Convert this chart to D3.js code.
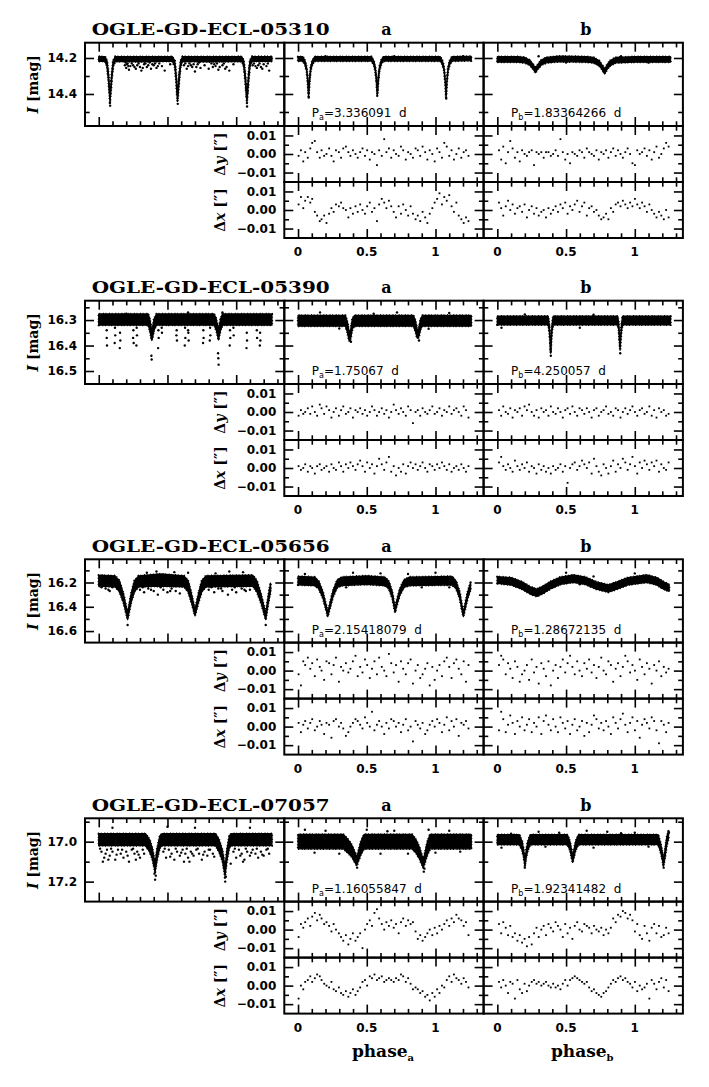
<!DOCTYPE html>
<html><head><meta charset="utf-8">
<script src="https://d3js.org/d3.v7.min.js"></script>
<style>html,body{margin:0;padding:0;background:#fff;}svg{display:block;}</style>
</head><body>
<svg id="chart" width="709" height="1087"></svg>
<script>
// ---------------- data ----------------
const starNames = ["OGLE-GD-ECL-05310","OGLE-GD-ECL-05390","OGLE-GD-ECL-05656","OGLE-GD-ECL-07057"];
const periodA = ["3.336091","1.75067","2.15418079","1.16055847"];
const periodB = ["1.83364266","4.250057","1.28672135","1.92341482"];
const magDomain = [[14.115,14.578],[16.224,16.551],[16.009,16.695],[16.883,17.30]];
const magMajorTicks = [[14.2,14.4],[16.3,16.4,16.5],[16.2,16.4,16.6],[17.0,17.2]];
const magMinorTicks = [[14.3,14.5],[16.25,16.35,16.45],[16.1,16.3,16.5],[16.9,17.1]];
const magTickLabels = [["14.2","14.4"],["16.3","16.4","16.5"],["16.2","16.4","16.6"],["17.0","17.2"]];
const phaseDomain = [-0.1, 1.35];
const phaseMajorTicks = [0, 0.5, 1];
const phaseMinorTicks = [0.1,0.2,0.3,0.4,0.6,0.7,0.8,0.9,1.1,1.2,1.3];
const phaseTickLabels = ["0","0.5","1"];
const shiftDomain = [-0.0151, 0.0151];
const shiftMajorTicks = [-0.01, 0, 0.01];
const shiftMinorTicks = [-0.005, 0.005];
const shiftTickLabels = ["\u22120.01","0.00","0.01"];

// light-curve bands: [phase, mean I mag, half spread]
const g1Full = [[0.00,14.205,.013],[0.045,14.205,.013],[0.06,14.23,.016],[0.07,14.30,.018],[0.077,14.37,.018],[0.082,14.43,.016],[0.088,14.37,.018],[0.095,14.30,.018],[0.105,14.23,.016],[0.12,14.205,.013],[0.30,14.207,.014],[0.45,14.206,.013],[0.535,14.205,.013],[0.553,14.23,.016],[0.562,14.30,.018],[0.568,14.37,.018],[0.573,14.425,.016],[0.579,14.37,.018],[0.586,14.30,.018],[0.596,14.23,.016],[0.61,14.205,.013],[0.80,14.207,.014],[1.04,14.205,.013],[1.055,14.23,.016],[1.065,14.30,.018],[1.072,14.37,.018],[1.078,14.435,.016],[1.084,14.37,.018],[1.091,14.30,.018],[1.10,14.23,.016],[1.115,14.205,.013],[1.26,14.205,.013]];
const g1A = [[0.00,14.205,.012],[0.035,14.205,.012],[0.05,14.225,.011],[0.062,14.26,.01],[0.07,14.32,.009],[0.077,14.405,.009],[0.084,14.32,.009],[0.092,14.26,.01],[0.104,14.225,.011],[0.12,14.205,.012],[0.30,14.205,.012],[0.535,14.205,.012],[0.55,14.225,.011],[0.562,14.26,.01],[0.57,14.32,.009],[0.577,14.395,.009],[0.584,14.32,.009],[0.592,14.26,.01],[0.604,14.225,.011],[0.62,14.205,.012],[0.85,14.205,.012],[1.035,14.205,.012],[1.05,14.225,.011],[1.062,14.26,.01],[1.07,14.32,.009],[1.077,14.41,.009],[1.084,14.32,.009],[1.092,14.26,.01],[1.104,14.225,.011],[1.12,14.205,.012],[1.26,14.203,.012]];
const g1B = [[0.00,14.208,.015],[0.15,14.208,.015],[0.20,14.212,.015],[0.235,14.225,.014],[0.26,14.248,.013],[0.277,14.27,.012],[0.295,14.248,.013],[0.32,14.225,.014],[0.355,14.212,.015],[0.45,14.205,.015],[0.65,14.208,.015],[0.70,14.212,.015],[0.74,14.228,.014],[0.765,14.255,.013],[0.78,14.276,.012],[0.797,14.252,.013],[0.822,14.228,.014],[0.86,14.212,.015],[1.0,14.208,.015],[1.26,14.208,.015]];
const g2Full = [[0.00,16.298,.022],[0.36,16.298,.022],[0.372,16.32,.022],[0.38,16.345,.02],[0.386,16.362,.018],[0.393,16.345,.02],[0.402,16.318,.022],[0.42,16.298,.022],[0.84,16.298,.022],[0.855,16.318,.022],[0.864,16.34,.02],[0.871,16.36,.018],[0.878,16.34,.02],[0.886,16.318,.022],[0.90,16.298,.022],[1.26,16.298,.022]];
const g2A = [[0.00,16.303,.021],[0.345,16.303,.021],[0.36,16.33,.02],[0.37,16.36,.018],[0.378,16.37,.014],[0.386,16.345,.018],[0.395,16.315,.02],[0.41,16.303,.021],[0.84,16.303,.021],[0.855,16.325,.02],[0.866,16.352,.018],[0.874,16.36,.012],[0.882,16.34,.018],[0.892,16.315,.02],[0.905,16.303,.021],[1.26,16.303,.021]];
const g2B = [[0.00,16.302,.017],[0.37,16.302,.017],[0.378,16.33,.012],[0.384,16.38,.007],[0.388,16.425,.005],[0.392,16.38,.007],[0.398,16.33,.012],[0.406,16.302,.017],[0.876,16.302,.017],[0.884,16.33,.012],[0.889,16.375,.007],[0.893,16.413,.005],[0.897,16.375,.007],[0.903,16.33,.012],[0.911,16.302,.017],[1.26,16.302,.017]];
const g3Full = [[0.00,16.185,.045],[0.12,16.19,.045],[0.15,16.23,.045],[0.18,16.33,.035],[0.21,16.48,.025],[0.235,16.33,.035],[0.26,16.23,.045],[0.29,16.19,.045],[0.45,16.18,.05],[0.62,16.19,.045],[0.65,16.23,.045],[0.675,16.33,.035],[0.70,16.45,.025],[0.725,16.33,.035],[0.75,16.23,.045],[0.78,16.19,.045],[1.12,16.185,.045],[1.15,16.23,.045],[1.18,16.33,.035],[1.215,16.48,.025],[1.235,16.33,.03],[1.25,16.24,.035]];
const g3A = [[0.00,16.185,.035],[0.12,16.19,.035],[0.15,16.22,.03],[0.18,16.3,.025],[0.205,16.41,.02],[0.216,16.465,.016],[0.23,16.4,.02],[0.255,16.29,.025],[0.285,16.21,.03],[0.32,16.19,.035],[0.5,16.18,.035],[0.63,16.19,.035],[0.66,16.22,.03],[0.685,16.3,.025],[0.698,16.38,.02],[0.706,16.43,.016],[0.718,16.37,.02],[0.74,16.28,.025],[0.77,16.21,.03],[0.81,16.19,.035],[1.12,16.185,.035],[1.15,16.22,.03],[1.175,16.3,.025],[1.193,16.41,.02],[1.203,16.465,.016],[1.215,16.4,.02],[1.235,16.3,.025],[1.255,16.23,.03]];
const g3B = [[0.00,16.18,.028],[0.10,16.19,.03],[0.18,16.225,.03],[0.24,16.265,.03],[0.287,16.285,.03],[0.33,16.262,.03],[0.39,16.22,.03],[0.46,16.185,.03],[0.553,16.168,.03],[0.64,16.185,.03],[0.72,16.225,.03],[0.808,16.25,.03],[0.87,16.225,.03],[0.95,16.19,.03],[1.087,16.168,.03],[1.16,16.19,.03],[1.21,16.225,.03],[1.25,16.245,.028]];
const g4Full = [[0.00,16.99,.03],[0.34,16.99,.03],[0.37,17.02,.03],[0.39,17.06,.026],[0.41,17.13,.022],[0.425,17.06,.026],[0.445,17.0,.03],[0.46,16.99,.03],[0.85,16.99,.03],[0.875,17.02,.03],[0.9,17.07,.026],[0.919,17.15,.022],[0.932,17.07,.026],[0.95,17.0,.03],[0.965,16.99,.03],[1.26,16.99,.03]];
const g4A = [[0.00,17.0,.036],[0.33,17.0,.036],[0.36,17.02,.034],[0.39,17.045,.03],[0.415,17.08,.025],[0.427,17.1,.02],[0.44,17.07,.025],[0.458,17.03,.032],[0.48,17.0,.036],[0.83,17.0,.036],[0.86,17.025,.033],[0.885,17.06,.028],[0.9,17.09,.023],[0.912,17.11,.02],[0.925,17.075,.025],[0.94,17.035,.032],[0.96,17.0,.036],[1.26,17.0,.036]];
const g4B = [[0.00,16.99,.025],[0.16,16.99,.025],[0.18,17.02,.021],[0.192,17.06,.018],[0.201,17.11,.014],[0.21,17.06,.018],[0.222,17.02,.021],[0.24,16.99,.025],[0.51,16.99,.025],[0.528,17.02,.021],[0.54,17.06,.018],[0.548,17.09,.014],[0.557,17.06,.018],[0.57,17.02,.021],[0.59,16.99,.025],[1.17,16.99,.025],[1.188,17.03,.021],[1.2,17.07,.018],[1.208,17.11,.014],[1.218,17.07,.018],[1.232,17.0,.021],[1.245,16.965,.018]];

// scattered individual measurements: [phase, I mag]
const g1FullDots = [[0.19,14.24],[0.2,14.255],[0.21,14.23],[0.22,14.265],[0.23,14.245],[0.25,14.24],[0.27,14.26],[0.29,14.23],[0.30,14.25],[0.31,14.27],[0.33,14.235],[0.35,14.25],[0.37,14.225],[0.38,14.26],[0.40,14.24],[0.42,14.255],[0.44,14.23],[0.46,14.245],[0.48,14.27],[0.52,14.235],[0.62,14.24],[0.64,14.26],[0.66,14.23],[0.68,14.25],[0.70,14.275],[0.72,14.235],[0.74,14.255],[0.77,14.24],[0.80,14.26],[0.82,14.23],[0.85,14.245],[0.87,14.265],[0.90,14.24],[0.93,14.25],[0.95,14.27],[0.98,14.235],[1.12,14.24],[1.15,14.255],[1.17,14.23],[1.19,14.26],[1.22,14.245],[1.24,14.27],[0.083,14.465],[0.575,14.455],[1.079,14.47],[0.081,14.45],[0.195,14.225],[0.205,14.235],[0.215,14.245],[0.24,14.23],[0.26,14.25],[0.28,14.24],[0.32,14.255],[0.34,14.23],[0.36,14.24],[0.39,14.235],[0.41,14.23],[0.43,14.245],[0.63,14.23],[0.65,14.245],[0.67,14.24],[0.69,14.235],[0.71,14.25],[0.73,14.225],[0.83,14.25],[0.84,14.235],[0.86,14.23],[0.88,14.25],[0.91,14.23],[0.92,14.26],[1.13,14.23],[1.14,14.245],[1.16,14.24],[1.18,14.25],[1.2,14.235],[1.23,14.23]];
const g1ADots = [[0.078,14.42],[0.576,14.41],[1.078,14.425],[0.2,14.19],[0.7,14.19],[1.2,14.19]];
const g1BDots = [[0.3,14.19],[0.9,14.19],[0.5,14.225],[1.1,14.226]];
const g2FullDots = [[0.058,16.34],[0.058,16.37],[0.06,16.40],[0.118,16.33],[0.12,16.36],[0.116,16.39],[0.155,16.35],[0.157,16.38],[0.153,16.41],[0.252,16.34],[0.25,16.37],[0.254,16.39],[0.276,16.33],[0.278,16.36],[0.274,16.40],[0.434,16.34],[0.436,16.37],[0.432,16.41],[0.458,16.33],[0.46,16.35],[0.567,16.34],[0.569,16.38],[0.565,16.36],[0.628,16.33],[0.63,16.37],[0.626,16.40],[0.652,16.35],[0.654,16.38],[0.65,16.34],[0.761,16.34],[0.763,16.37],[0.759,16.39],[0.81,16.33],[0.812,16.36],[0.808,16.38],[0.955,16.34],[0.957,16.37],[0.953,16.40],[0.98,16.33],[0.982,16.36],[1.077,16.35],[1.079,16.38],[1.075,16.41],[1.15,16.34],[1.152,16.37],[1.174,16.35],[1.176,16.38],[1.172,16.40],[0.383,16.44],[0.385,16.455],[0.868,16.43],[0.87,16.45],[0.872,16.475],[0.2,16.275],[0.65,16.27],[0.9,16.27]];
const g2ADots = [[0.16,16.27],[0.55,16.275],[0.72,16.27],[1.1,16.272],[0.385,16.385],[0.88,16.38],[0.3,16.333],[0.95,16.334]];
const g2BDots = [[0.03,16.33],[0.6,16.33],[0.389,16.44],[0.894,16.43],[0.2,16.278],[0.7,16.279]];
const g3FullDots = [[0.30,16.26],[0.33,16.28],[0.36,16.25],[0.40,16.27],[0.43,16.3],[0.47,16.26],[0.5,16.28],[0.53,16.25],[0.56,16.27],[0.59,16.29],[0.8,16.26],[0.84,16.28],[0.87,16.25],[0.9,16.27],[0.94,16.3],[0.97,16.26],[1.0,16.28],[1.04,16.25],[1.07,16.27],[1.1,16.26],[0.05,16.25],[0.08,16.27],[0.1,16.24],[0.42,16.11],[0.55,16.115],[0.95,16.11],[1.05,16.115],[0.21,16.55],[1.215,16.55],[0.32,16.24],[0.38,16.26],[0.45,16.24],[0.52,16.27],[0.82,16.24],[0.89,16.25],[0.99,16.24],[1.06,16.26],[0.02,16.24],[0.07,16.26],[0.35,16.12],[0.65,16.12],[0.85,16.125]];
const g3ADots = [[0.4,16.12],[0.6,16.125],[1.0,16.12],[0.35,16.24],[0.9,16.24],[0.05,16.13],[0.8,16.13],[1.1,16.24]];
const g3BDots = [[0.5,16.12],[0.7,16.15],[1.0,16.125],[0.15,16.235],[0.6,16.215]];
const g4FullDots = [[0.02,17.05],[0.04,17.08],[0.06,17.04],[0.08,17.07],[0.1,17.05],[0.12,17.09],[0.14,17.04],[0.16,17.06],[0.18,17.08],[0.2,17.05],[0.22,17.1],[0.24,17.04],[0.26,17.06],[0.28,17.05],[0.3,17.08],[0.32,17.04],[0.47,17.05],[0.49,17.08],[0.51,17.04],[0.53,17.06],[0.55,17.09],[0.57,17.05],[0.59,17.07],[0.61,17.04],[0.63,17.06],[0.65,17.08],[0.67,17.05],[0.69,17.07],[0.71,17.04],[0.73,17.06],[0.75,17.09],[0.77,17.05],[0.79,17.07],[0.81,17.04],[0.83,17.06],[0.98,17.05],[1.0,17.08],[1.02,17.04],[1.04,17.06],[1.06,17.09],[1.08,17.05],[1.1,17.07],[1.12,17.04],[1.14,17.06],[1.16,17.08],[1.18,17.05],[1.2,17.07],[1.22,17.04],[1.24,17.06],[0.405,17.16],[0.41,17.19],[0.415,17.17],[0.918,17.18],[0.92,17.2],[0.925,17.175],[0.1,16.93],[0.5,16.925],[0.7,16.93],[1.1,16.93],[0.03,17.1],[0.96,17.11],[0.01,17.035],[0.05,17.06],[0.09,17.035],[0.13,17.065],[0.17,17.04],[0.21,17.07],[0.25,17.035],[0.29,17.065],[0.33,17.06],[0.48,17.035],[0.52,17.075],[0.56,17.035],[0.6,17.055],[0.64,17.035],[0.68,17.06],[0.72,17.035],[0.76,17.065],[0.8,17.04],[0.84,17.075],[0.99,17.035],[1.03,17.07],[1.07,17.035],[1.11,17.055],[1.15,17.035],[1.19,17.065],[1.23,17.035],[0.07,17.09],[0.27,17.09],[0.62,17.1],[0.66,17.1],[1.05,17.1]];
const g4ADots = [[0.05,16.94],[0.2,16.945],[0.5,16.94],[0.7,16.945],[0.95,16.94],[1.1,16.945],[0.3,17.06],[0.6,17.06],[0.8,17.06],[0.43,17.13],[0.915,17.15],[0.92,17.135],[0.12,17.055],[1.0,17.055],[1.18,17.05],[0.65,16.948]];
const g4BDots = [[0.3,16.95],[0.45,16.955],[0.65,16.945],[0.8,16.95],[1.0,16.955],[0.03,17.03],[0.7,17.03],[0.2,17.13],[1.21,17.13],[1.248,16.955],[0.1,16.96],[0.9,16.958],[0.35,17.025],[1.1,17.025]];

// centroid shifts (arcsec) vs phase
const phA = [0.004,0.021,0.038,0.052,0.071,0.089,0.103,0.122,0.139,0.158,0.171,0.19,0.207,0.226,0.243,0.259,0.276,0.297,0.313,0.329,0.348,0.366,0.381,0.399,0.418,0.434,0.452,0.469,0.487,0.503,0.522,0.538,0.556,0.574,0.59,0.609,0.627,0.643,0.661,0.678,0.696,0.713,0.732,0.749,0.765,0.784,0.801,0.819,0.836,0.855,0.871,0.889,0.906,0.925,0.941,0.958,0.977,0.994,1.012,1.029,1.047,1.064,1.082,1.1,1.117,1.134,1.152,1.169,1.188,1.205,1.222,1.24];
const phB = [0.012,0.028,0.043,0.061,0.078,0.094,0.111,0.128,0.146,0.163,0.18,0.198,0.215,0.231,0.25,0.267,0.285,0.301,0.32,0.337,0.354,0.372,0.389,0.406,0.424,0.441,0.459,0.476,0.494,0.511,0.529,0.546,0.563,0.581,0.598,0.616,0.633,0.651,0.668,0.686,0.703,0.721,0.738,0.756,0.773,0.791,0.808,0.826,0.843,0.861,0.878,0.896,0.913,0.931,0.948,0.966,0.983,1.001,1.018,1.036,1.053,1.071,1.088,1.106,1.123,1.141,1.158,1.176,1.193,1.211,1.228,1.246];
const g1aDy = [-.001,.002,-.004,.001,-.002,.003,.006,.007,.001,-.002,.002,-.001,.000,.003,-.001,-.004,.002,.001,-.002,.003,.004,.001,-.001,.002,.000,-.002,.001,.003,-.001,.002,-.003,.001,.000,-.006,.002,-.001,.008,.001,.003,-.002,.002,.000,-.001,.004,.002,-.003,.001,.000,-.002,.003,.002,-.001,.004,.001,-.003,.002,.000,-.004,.003,.001,-.002,.006,.004,-.001,.002,-.003,.000,.003,-.002,.001,.002,-.001];
const g1aDx = [.003,.007,.001,.005,.007,.004,.006,-.001,-.003,-.006,-.005,-.003,-.007,-.002,.001,-.001,.003,.002,.004,.001,.000,-.004,.001,-.002,.002,-.001,.003,.000,-.002,.002,.004,-.001,.001,-.006,.003,.006,.004,.001,.005,.002,-.001,-.004,.002,-.002,.003,.000,-.003,.002,-.002,-.005,-.003,-.006,-.001,-.004,-.007,-.002,.001,.004,.006,.009,.003,.007,.005,.008,.002,-.001,.004,-.003,-.005,-.007,-.004,-.006];
const g1bDy = [.002,-.003,.004,-.005,.001,.007,.003,-.002,.001,-.004,.002,.000,-.001,.001,.002,-.006,.001,.000,.001,-.002,.001,.001,-.001,.000,.002,-.001,.008,.001,-.003,.000,-.005,.001,.000,-.001,.002,.001,-.002,.003,.001,.000,-.001,.002,-.003,.001,.000,.002,-.002,.001,.003,-.001,.002,.000,-.002,.001,.003,.000,-.005,-.006,.002,.000,.001,.003,-.001,.002,-.003,.001,.004,-.002,.000,.003,.006,.004];
const g1bDx = [.004,.001,-.003,.002,.005,.000,.003,-.002,.001,.002,-.001,.003,-.004,.000,.002,-.002,.001,-.003,-.001,.000,-.004,.001,-.002,.000,.002,-.001,.003,.001,.004,-.002,.002,.000,.003,.005,-.001,.002,.004,-.003,.001,.002,-.001,.000,-.003,-.005,-.004,-.002,-.005,.001,-.001,.003,.004,.002,.005,.003,.001,.004,.002,.006,.003,.001,.004,.002,-.001,.003,.000,-.002,-.004,-.001,-.003,-.005,.000,-.004];
const g2aDy = [-.002,.001,-.001,.000,.002,-.001,.003,.000,-.002,.004,.002,-.001,.003,.001,-.003,.000,.002,-.002,.001,.003,-.001,.000,.002,-.003,.001,.000,.002,-.001,.001,-.002,.000,.003,.001,-.002,.000,.002,-.001,.001,-.003,.000,.004,.001,-.001,.002,.000,-.002,.003,.001,-.006,.000,.001,-.002,.002,.000,-.001,.001,.003,-.001,.000,.002,-.002,.001,.000,.003,-.001,.001,.002,.000,-.002,.003,.001,-.003];
const g2aDx = [.001,-.001,.000,.002,-.002,.001,.000,-.003,.001,.002,-.001,.000,.001,-.002,.002,.000,-.001,.003,.001,-.002,.002,.000,.003,.001,-.001,.002,.004,.001,-.002,.003,.000,.002,-.003,.001,.005,.002,-.001,.003,.006,-.002,.001,-.004,.000,-.002,.002,-.003,.001,.003,.000,.002,-.001,.001,.003,.000,-.002,.002,.001,-.001,.002,.000,.003,.001,-.001,.002,-.002,.000,.001,-.001,.002,.000,-.002,.001];
const g2bDy = [.001,-.002,.003,.000,-.001,.002,-.003,.001,.000,.002,-.002,.003,.001,.004,.000,-.002,.001,-.003,.002,.000,.001,-.002,.003,.000,-.001,.002,.000,-.003,.001,.002,-.001,.003,.000,-.002,.002,.001,-.001,.002,.000,-.003,.001,.002,-.002,.000,.001,.003,-.001,.000,-.002,.002,.001,-.003,.000,.002,-.001,.001,.003,.000,-.002,.001,.002,-.001,.000,.003,-.002,.001,-.003,.002,.000,.001,-.002,-.001];
const g2bDx = [.003,.006,.001,-.001,.002,.000,-.002,.004,.001,-.001,.002,.000,.003,-.002,.001,.000,-.003,.002,-.001,.001,-.002,.000,-.003,.001,-.001,.000,.002,-.002,.001,-.008,.000,.002,.003,-.001,.001,.004,.002,.000,.003,-.003,.005,.001,-.002,-.004,.002,.000,-.003,.001,.004,-.002,.002,.000,.005,.003,-.001,.002,.006,.001,-.003,.003,.000,.004,.002,-.001,.003,.001,.004,-.002,.002,.000,-.001,.003];
const g3aDy = [-.002,-.008,.005,.003,.007,.001,.004,-.003,.006,.002,.000,-.005,.005,.004,-.002,.003,.007,-.006,.002,.000,.004,-.001,.001,.005,.008,-.003,.002,-.001,.006,.003,-.004,.001,.005,-.002,.007,.002,.000,-.003,.009,.004,-.001,.003,-.006,.005,.001,-.002,.004,.006,-.007,.000,.003,-.004,-.002,.001,.004,-.008,.002,-.005,.000,.003,-.003,.005,.007,.002,-.004,.004,.006,.001,-.002,.005,-.006,.003];
const g3aDx = [.002,-.003,.001,.003,-.001,.002,.004,-.002,.000,.003,.001,-.004,.002,.001,-.006,.003,.004,.000,.002,-.001,-.005,-.003,.000,.002,.004,.003,.001,-.001,.005,.002,.000,.008,-.002,.001,.003,.000,-.004,.002,-.001,.004,.003,.000,.002,-.003,.001,.004,-.002,.000,-.008,.003,.001,-.001,.002,-.004,-.002,.001,.003,.000,.004,.002,-.003,.001,.005,-.002,.003,.000,.004,-.005,.002,.001,.003,-.001];
const g3bDy = [.003,.008,.006,-.002,.004,.001,-.004,.005,.002,-.006,-.002,.000,.003,-.005,.006,-.001,.002,-.007,.004,.001,-.003,.005,-.008,.000,.003,-.004,.002,.006,-.001,.004,.008,.002,-.002,.005,.000,-.003,.004,.001,.006,-.001,.003,-.004,.002,.007,.000,-.002,.005,.003,-.006,.001,.004,-.003,.002,.008,.005,-.001,.003,.000,-.005,.006,.002,-.002,.004,.001,-.007,.003,.000,.005,-.003,.002,-.001,.001];
const g3bDx = [-.002,.008,.004,-.003,.001,.006,.002,-.004,.003,.000,.005,-.002,.001,.004,-.003,.002,.000,.005,-.004,.003,.006,.001,-.002,.004,.000,-.003,.005,.002,-.001,.003,-.004,.001,.004,-.002,.000,.003,-.005,.002,-.003,.001,.006,.004,-.001,.002,-.002,.003,.000,-.004,.005,.002,-.001,.004,.007,.001,-.003,.002,.005,-.002,.003,-.006,.001,.004,.002,-.001,.005,.003,-.002,-.009,.003,.001,-.003,.002];
const g4aDy = [-.004,.003,.001,.004,.006,.002,.007,.009,.005,.008,.006,.003,.004,.002,-.001,.003,.000,-.002,-.004,-.006,-.003,-.008,-.005,-.002,-.006,-.004,-.002,-.010,.000,.003,.005,.002,.009,.011,.006,.003,.000,.004,.002,.005,.001,.003,-.002,.004,.006,.002,.005,.003,.004,-.001,-.005,-.003,-.006,-.004,-.002,.000,-.003,.001,-.002,.002,.000,.003,.005,.002,.006,.004,.008,.006,.005,.002,.004,-.003];
const g4aDx = [-.007,.000,-.002,.002,.003,.005,.002,.004,.006,.005,.003,.001,.000,-.001,.002,-.002,-.003,-.001,-.004,-.005,-.003,-.006,-.004,-.002,-.005,-.003,-.001,.002,.003,.000,.005,.004,.006,.003,.004,.005,.002,.003,.004,.003,.002,.004,.003,.006,.005,.002,.004,.001,-.002,-.001,-.002,-.004,-.003,-.006,-.005,-.008,-.004,-.006,-.002,-.004,.000,-.001,.003,.005,.002,.006,.004,.003,.001,.004,.002,-.001];
const g4bDy = [.003,-.002,.004,.001,-.003,.002,-.004,-.002,-.006,-.003,-.007,-.005,-.009,-.004,-.008,-.002,.001,-.004,.000,.002,-.003,.003,.001,-.001,.004,.002,.000,-.004,.003,-.002,.001,-.005,.002,.004,.000,-.001,.003,.002,.001,-.002,.002,.000,-.001,.001,-.003,.000,-.002,.001,.006,.004,.008,.007,.010,.009,.006,.008,.005,-.001,.003,-.003,-.005,.002,-.002,-.006,.001,.003,-.002,.002,-.004,-.003,.001,-.002];
const g4bDx = [.002,-.001,.003,.000,-.004,.002,.001,-.007,.003,-.002,-.004,.001,-.003,.000,.002,.003,.001,.002,.000,.001,.002,.000,-.001,.001,-.001,.000,-.002,.001,.003,.000,.003,.004,.005,.004,.003,.002,.001,.002,-.001,-.003,-.002,-.004,-.005,-.006,-.004,-.003,-.001,.001,.003,.002,.004,.005,.003,.004,.002,.001,-.001,.002,-.003,.000,-.002,-.001,.001,-.007,.003,.001,-.002,.002,.004,-.001,.003,-.003];

// ---------------- assembly ----------------
const bandSets = [[g1Full,g1A,g1B],[g2Full,g2A,g2B],[g3Full,g3A,g3B],[g4Full,g4A,g4B]];
const dotSets = [[g1FullDots,g1ADots,g1BDots],[g2FullDots,g2ADots,g2BDots],[g3FullDots,g3ADots,g3BDots],[g4FullDots,g4ADots,g4BDots]];
const shiftSets = [
  [[phA,g1aDy,g1aDx],[phB,g1bDy,g1bDx]],
  [[phA,g2aDy,g2aDx],[phB,g2bDy,g2bDx]],
  [[phA,g3aDy,g3aDx],[phB,g3bDy,g3bDx]],
  [[phA,g4aDy,g4aDx],[phB,g4bDy,g4bDx]]
];

// ---------------- layout ----------------
const svg = d3.select("#chart");
const colX = [85, 284.3, 483.6];
const PW = 199.3, TH = 83.3, DH = 56;
const groupTop = [42.7, 300.7, 559.3, 818.3];
const MAJ = 9, MIN = 4.7;
const tickFont = "'DejaVu Sans', sans-serif";
const serif = "'DejaVu Serif', serif";

const x = d3.scaleLinear().domain(phaseDomain).range([0, PW]);
const yShift = d3.scaleLinear().domain(shiftDomain).range([DH, 0]);

function frame(g, w, h, xs, ys, xMaj, xMin, yMaj, yMin) {
  const add = (axis, tx, ty) => {
    const a = g.append("g").attr("transform", `translate(${tx},${ty})`).call(axis);
    a.select(".domain").remove();
    a.selectAll("text").remove();
    a.selectAll("line").attr("stroke", "#000").attr("stroke-width", 1.6);
  };
  [[xMaj, MAJ], [xMin, MIN]].forEach(([v, len]) => {
    add(d3.axisBottom(xs).tickValues(v).tickSize(len).tickFormat(""), 0, 0);
    add(d3.axisTop(xs).tickValues(v).tickSize(len).tickFormat(""), 0, h);
  });
  [[yMaj, MAJ], [yMin, MIN]].forEach(([v, len]) => {
    add(d3.axisRight(ys).tickValues(v).tickSize(len).tickFormat(""), 0, 0);
    add(d3.axisLeft(ys).tickValues(v).tickSize(len).tickFormat(""), w, 0);
  });
  g.append("rect").attr("width", w).attr("height", h)
    .attr("fill", "none").attr("stroke", "#000").attr("stroke-width", 2);
}

groupTop.forEach((top, gi) => {
  const yMag = d3.scaleLinear().domain(magDomain[gi]).range([0, TH]);
  // title + column letters
  svg.append("text").attr("x", 91.7).attr("y", top - 7.7)
    .attr("font-family", serif).attr("font-weight", "bold").attr("font-size", 17)
    .attr("textLength", 238).attr("lengthAdjust", "spacingAndGlyphs")
    .text(starNames[gi]);
  ["a", "b"].forEach((lab, k) => {
    svg.append("text").attr("x", colX[k + 1] + PW / 2 + 2.5).attr("y", top - 7.7)
      .attr("text-anchor", "middle").attr("font-family", serif)
      .attr("font-weight", "bold").attr("font-size", 16).text(lab);
  });

  // light curve panels
  for (let c = 0; c < 3; c++) {
    const g = svg.append("g").attr("transform", `translate(${colX[c]},${top})`);
    const area = d3.area().x(d => x(d[0])).y0(d => yMag(d[1] - d[2])).y1(d => yMag(d[1] + d[2]));
    g.append("path").datum(bandSets[gi][c]).attr("d", area)
      .attr("fill", "#000").attr("stroke", "#000").attr("stroke-width", 1.3).attr("stroke-linejoin", "round");
    // ragged outline emulating individual points at the band edges
    g.append("path").datum(bandSets[gi][c]).attr("d", area)
      .attr("fill", "none").attr("stroke", "#000").attr("stroke-width", 2.4)
      .attr("stroke-dasharray", "1.1 2.6 0.8 1.7").attr("stroke-linejoin", "round");
    g.selectAll("circle.pt").data(dotSets[gi][c]).join("circle").attr("class", "pt")
      .attr("cx", d => x(d[0])).attr("cy", d => yMag(d[1])).attr("r", 1.2).attr("fill", "#000");
    frame(g, PW, TH, x, yMag, phaseMajorTicks, phaseMinorTicks, magMajorTicks[gi], magMinorTicks[gi]);
    if (c > 0) {
      const per = c === 1 ? periodA[gi] : periodB[gi];
      const t = g.append("text").attr("x", 27.5).attr("y", TH - 9)
        .attr("font-family", tickFont).attr("font-size", 12);
      t.append("tspan").text("P");
      t.append("tspan").attr("font-size", 8).attr("dy", 3).text(c === 1 ? "a" : "b");
      t.append("tspan").attr("dy", -3).text("=" + per + "\u00a0\u00a0d");
    }
  }
  // magnitude tick labels
  magMajorTicks[gi].forEach((v, i) => {
    svg.append("text").attr("x", colX[0] - 8).attr("y", top + yMag(v)).attr("dy", "0.36em")
      .attr("text-anchor", "end").attr("font-family", tickFont).attr("font-weight", "bold")
      .attr("font-size", 12).text(magTickLabels[gi][i]);
  });
  // I [mag]
  const ylab = svg.append("text").attr("transform", `translate(38,${top + TH / 2}) rotate(-90)`)
    .attr("text-anchor", "middle").attr("font-family", serif).attr("font-weight", "bold").attr("font-size", 14);
  ylab.append("tspan").attr("font-style", "italic").text("I");
  ylab.append("tspan").text(" [mag]");

  // shift panels
  for (let c = 0; c < 2; c++) {
    const [ph, dy, dx] = shiftSets[gi][c];
    [dy, dx].forEach((vals, r) => {
      const g = svg.append("g").attr("transform", `translate(${colX[c + 1]},${top + TH + r * DH})`);
      g.selectAll("rect.pt").data(d3.zip(ph, vals)).join("rect").attr("class", "pt")
        .attr("x", d => x(d[0]) - 0.9).attr("y", d => yShift(d[1]) - 0.9)
        .attr("width", 1.8).attr("height", 1.8).attr("fill", "#000");
      frame(g, PW, DH, x, yShift, phaseMajorTicks, phaseMinorTicks, shiftMajorTicks, shiftMinorTicks);
    });
  }
  // shift tick labels + axis labels
  [0, 1].forEach(r => {
    shiftMajorTicks.forEach((v, i) => {
      svg.append("text").attr("x", colX[1] - 8).attr("y", top + TH + r * DH + yShift(v)).attr("dy", "0.36em")
        .attr("text-anchor", "end").attr("font-family", tickFont).attr("font-weight", "bold")
        .attr("font-size", 12).text(shiftTickLabels[i]);
    });
    const lab = svg.append("text").attr("transform", `translate(225,${top + TH + r * DH + DH / 2}) rotate(-90)`)
      .attr("text-anchor", "middle").attr("font-family", serif).attr("font-weight", "bold").attr("font-size", 14);
    lab.append("tspan").text("\u0394");
    lab.append("tspan").attr("font-style", "italic").text(r === 0 ? "y" : "x");
    lab.append("tspan").text(" [\u2033]");
  });
  // phase tick labels
  [1, 2].forEach(c => {
    phaseMajorTicks.forEach((v, i) => {
      svg.append("text").attr("x", colX[c] + x(v)).attr("y", top + TH + 2 * DH + 18)
        .attr("text-anchor", "middle").attr("font-family", tickFont).attr("font-weight", "bold")
        .attr("font-size", 12).text(phaseTickLabels[i]);
    });
  });
});

// bottom phase labels
["a", "b"].forEach((s, k) => {
  const t = svg.append("text").attr("x", colX[k + 1] + PW / 2 - 1).attr("y", 1057)
    .attr("text-anchor", "middle").attr("font-family", serif).attr("font-weight", "bold").attr("font-size", 17);
  t.append("tspan").text("phase");
  t.append("tspan").attr("font-size", 10).attr("dy", 4).text(s);
});
</script>
</body></html>
